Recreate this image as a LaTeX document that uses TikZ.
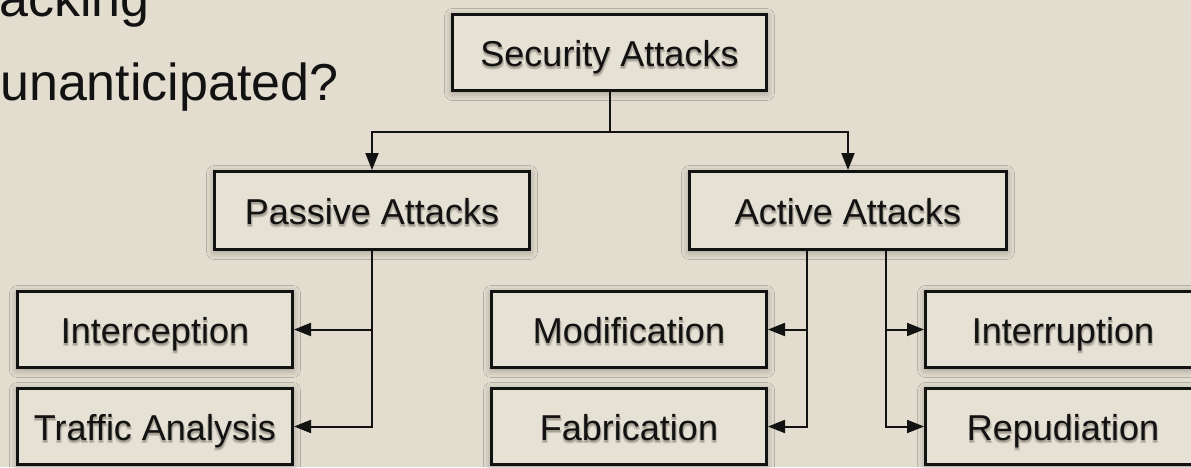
\documentclass[tikz,border=0pt]{standalone}
\usepackage{fontspec}
\setmainfont{Liberation Sans}
\usetikzlibrary{arrows.meta,shadows.blur}

\definecolor{paper}{RGB}{227,221,207}
\definecolor{boxfill}{RGB}{230,225,213}
\definecolor{ink}{RGB}{18,18,18}
\definecolor{haloA}{RGB}{196,190,178}
\definecolor{haloB}{RGB}{165,159,148}

% label text with a soft drop shadow underneath
\newcommand\softtext[1]{\leavevmode
  \rlap{\kern-0.8pt\raisebox{-3.2pt}{\textcolor{haloA}{#1}}}%
  \rlap{\kern1.4pt\raisebox{-3.2pt}{\textcolor{haloA}{#1}}}%
  \rlap{\kern0.3pt\raisebox{-2.2pt}{\textcolor{haloB}{#1}}}%
  #1}

\begin{document}
\begin{tikzpicture}[x=1pt,y=-1pt,
  box/.style={draw=ink, line width=3pt, fill=boxfill,
    minimum width=275pt, minimum height=76pt, inner sep=0pt,
    text height=28pt, text depth=0pt,
    font=\fontsize{36}{40}\selectfont, text=ink,
    blur shadow={shadow xshift=0pt, shadow yshift=-2pt,
      shadow blur radius=8pt, shadow opacity=35}},
  line/.style={draw=ink, line width=2pt},
  arr/.style={line, -{Triangle[length=17pt,width=13pt]}},
  slide/.style={anchor=base west, inner sep=0pt,
    font=\fontsize{52}{60}\selectfont, text=ink}]

\fill[paper] (0,0) rectangle (1191,467);
\useasboundingbox (0,0) rectangle (1191,467);
\clip (0,0) rectangle (1191,467);

% slide text behind the chart
\node[slide] (l1) at (-1,16) {acking};
\node[slide] (l2) at (0,100) {unanticipated?};

% boxes
\node[box, minimum width=314pt] (sec) at (609.5,52.5) {\softtext{Security Attacks}};
\node[box, minimum width=315pt, minimum height=78pt] (pas) at (372,210.5) {\softtext{Passive Attacks}};
\node[box, minimum width=317pt, minimum height=78pt] (act) at (848,210.5) {\softtext{Active Attacks}};
\node[box] (int) at (155,329.5) {\softtext{Interception}};
\node[box] (tra) at (155,426.5) {\softtext{Traffic Analysis}};
\node[box] (mod) at (629,329.5) {\softtext{Modification}};
\node[box] (fab) at (629,426.5) {\softtext{Fabrication}};
\node[box] (irp) at (1063,329.5) {\softtext{Interruption}};
\node[box] (rep) at (1063,426.5) {\softtext{Repudiation}};

% connectors
\coordinate (bus) at (0,132);
\draw[arr] (sec.south) -- (sec.south |- bus) -| (pas.north);
\draw[arr] (sec.south |- bus) -| (act.north);

\draw[arr] (pas.south) |- (int.east);
\draw[arr] (pas.south) |- (tra.east);

\coordinate (al) at ([xshift=-41pt]act.south);
\coordinate (ar) at ([xshift=38pt]act.south);
\draw[arr] (al) |- (mod.east);
\draw[arr] (al) |- (fab.east);
\draw[arr] (ar) |- (irp.west);
\draw[arr] (ar) |- (rep.west);
\end{tikzpicture}
\end{document}
